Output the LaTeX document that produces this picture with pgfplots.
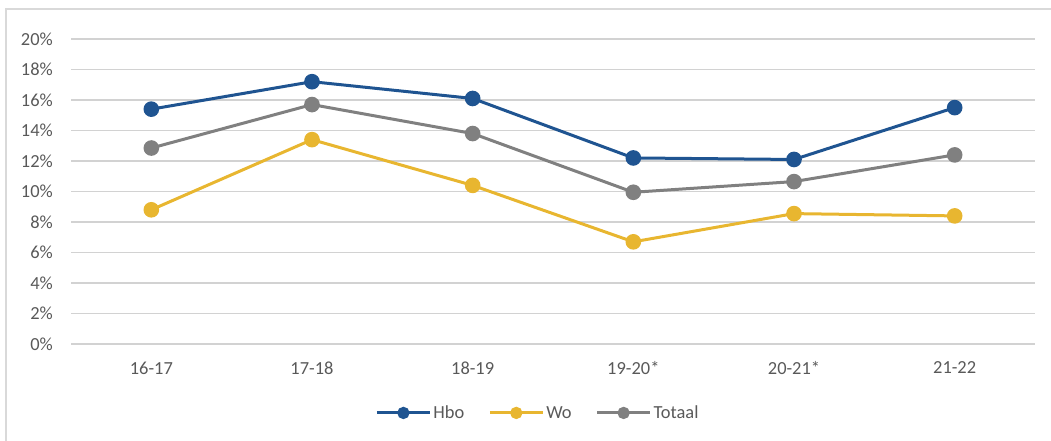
\documentclass[border=0pt]{standalone}
\usepackage{pgfplots}
\pgfplotsset{compat=1.18}
\usepackage{fontspec}
\setmainfont{Carlito}
\definecolor{hbo}{RGB}{31,84,145}
\definecolor{wo}{RGB}{232,182,48}
\definecolor{tot}{RGB}{128,128,128}
\definecolor{gridc}{RGB}{210,210,210}
\definecolor{txt}{RGB}{89,89,89}
\definecolor{frame}{RGB}{217,217,217}
\begin{document}
\begin{tikzpicture}
\path[use as bounding box] (0,0) rectangle (1051bp,441bp);
\draw[frame, line width=1.5bp] (6bp,0) -- (6bp,432bp) -- (1051bp,432bp);
\begin{axis}[
  at={(71bp,97bp)}, anchor=south west,
  scale only axis, width=964bp, height=305bp,
  xmin=-0.5, xmax=5.5, ymin=0, ymax=20,
  xtick={0,...,5},
  xticklabels={16-17,17-18,18-19,19-20*,20-21*,21-22},
  ytick={0,2,...,20},
  yticklabel={\pgfmathprintnumber{\tick}\%},
  /pgf/number format/assume math mode=true,
  axis line style={draw=none},
  major tick length=0pt,
  ymajorgrids,
  major grid style={gridc, line width=1.4bp},
  tick label style={font=\fontsize{18.5}{21}\selectfont, text=txt, inner sep=0pt},
  xticklabel style={anchor=center, yshift=-24bp},
  yticklabel style={anchor=east, xshift=-18bp},
  every axis plot/.append style={line width=3bp, mark=*, mark size=6.3bp},
  legend style={at={(0.4844,-0.226)}, anchor=center, draw=none, fill=none,
    font=\fontsize{18.5}{21}\selectfont, text=txt,
    /tikz/every even column/.append style={column sep=22bp}},
  legend columns=-1,
  legend cell align=left,
  legend image code/.code={%
    \draw[#1, mark size=4.6bp, mark repeat=2, mark phase=2] plot coordinates {(0bp,0bp) (26.5bp,0bp) (53bp,0bp)};},
]
\addplot[hbo, mark options={fill=hbo, draw=none}] coordinates {
  (0,15.4) (1,17.2) (2,16.1) (3,12.2) (4,12.1) (5,15.5)
};
\addplot[wo, mark options={fill=wo, draw=none}] coordinates {
  (0,8.8) (1,13.4) (2,10.4) (3,6.7) (4,8.55) (5,8.4)
};
\addplot[tot, mark options={fill=tot, draw=none}] coordinates {
  (0,12.85) (1,15.7) (2,13.8) (3,9.95) (4,10.65) (5,12.4)
};
\legend{Hbo,Wo,Totaal}
\end{axis}
\end{tikzpicture}
\end{document}
